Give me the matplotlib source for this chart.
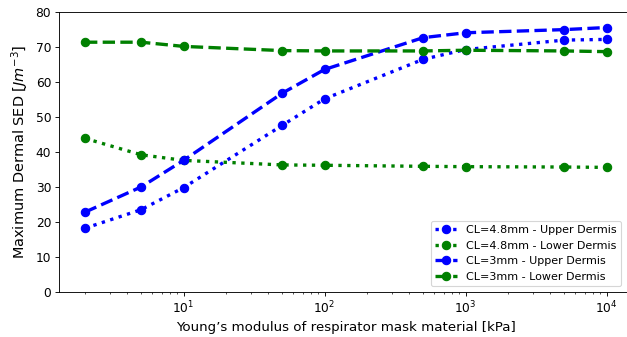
import numpy as np
import matplotlib
matplotlib.use('Agg')
import matplotlib.pyplot as plt

# Young's modulus [kPa]
E = [2, 5, 10, 50, 100, 500, 1000, 5000, 10000]

upper_48 = [18.2, 23.5, 29.8, 47.6, 55.2, 66.5, 69.3, 72.0, 72.2]
lower_48 = [43.9, 39.2, 37.6, 36.3, 36.2, 35.9, 35.8, 35.7, 35.6]
upper_3 = [22.8, 30.0, 37.6, 56.8, 63.6, 72.7, 74.1, 75.0, 75.6]
lower_3 = [71.4, 71.4, 70.2, 69.0, 68.9, 68.9, 69.1, 68.9, 68.7]

# figure drawn at 80 dpi so the default font sizes come out a bit smaller
fig = plt.figure(figsize=(627/80., 337/80.), dpi=80)
# right edge of axes runs slightly past the image (reference is cropped there)
ax = fig.add_axes([0.094, 0.134, 0.915, 0.830])

ax.plot(E, upper_48, 'b:', marker='o', lw=3, ms=7.5, label='CL=4.8mm - Upper Dermis')
ax.plot(E, lower_48, 'g:', marker='o', lw=3, ms=7.5, label='CL=4.8mm - Lower Dermis')
ax.plot(E, upper_3, 'b--', marker='o', lw=3, ms=7.5, label='CL=3mm - Upper Dermis')
ax.plot(E, lower_3, 'g--', marker='o', lw=3, ms=7.5, label='CL=3mm - Lower Dermis')

ax.set_xscale('log')
ax.set_ylim(0, 80)
ax.tick_params(labelsize=11)
ax.set_xlabel("Young\u2019s modulus of respirator mask material [kPa]", fontsize=12)
ax.set_ylabel(r'Maximum Dermal SED [$Jm^{-3}$]', fontsize=13)
leg = ax.legend(loc='lower right', fontsize=10, bbox_to_anchor=(0.99, 0.0))

fig.savefig('out.png', dpi=80)
